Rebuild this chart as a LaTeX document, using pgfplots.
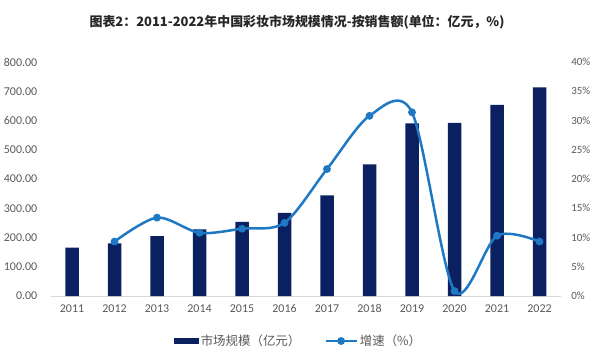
\documentclass[border=0pt]{standalone}
\usepackage{fontspec}
\setmainfont{Carlito}
\newfontfamily\cjk{Noto Sans CJK SC}
\usepackage{pgfplots}
\pgfplotsset{compat=1.18}
\definecolor{navy}{RGB}{10,32,96}
\definecolor{lblue}{RGB}{31,120,196}
\definecolor{tgray}{RGB}{89,89,89}
\definecolor{agray}{RGB}{217,217,217}
\begin{document}
\begin{tikzpicture}[x=1bp,y=1bp]
\useasboundingbox (0,0) rectangle (600,357);
\node[font=\cjk\bfseries\fontsize{13}{15}\selectfont, text=black!85] at (297,335) {图表2：2011-2022年中国彩妆市场规模情况-按销售额(单位：亿元，\%)};
\begin{axis}[at={(50.75bp,61bp)}, anchor=south west, scale only axis,
  width=510bp, height=234bp,
  xmin=-0.5, xmax=11.5, ymin=0, ymax=800,
  ytick={0,100,...,800},
  xtick={0,...,11},
  xticklabels={2011,2012,2013,2014,2015,2016,2017,2018,2019,2020,2021,2022},
  axis x line*=bottom, axis y line*=left,
  separate axis lines,
  x axis line style={agray, line width=0.8bp, -},
  y axis line style={draw=none},
  tick style={draw=none},
  /pgf/number format/assume math mode=true,
  ticklabel style={font=\fontsize{12}{13}\selectfont, text=tgray},
  yticklabel={\pgfmathprintnumber[fixed, fixed zerofill, precision=2, 1000 sep={}]{\tick}},
  yticklabel style={xshift=-10bp},
  xticklabel style={yshift=-5bp},
  clip=false,
]
\addplot[ybar, bar width=13.5bp, bar shift=0pt, fill=navy, draw=none] coordinates {
(0,165) (1,180) (2,205) (3,228) (4,253) (5,284) (6,344) (7,450) (8,590) (9,592) (10,653) (11,713)};
\end{axis}
\begin{axis}[at={(50.75bp,61bp)}, anchor=south west, scale only axis,
  width=510bp, height=234bp,
  xmin=-0.5, xmax=11.5, ymin=0, ymax=40,
  ytick={0,5,...,40},
  axis y line*=right, axis x line=none,
  y axis line style={draw=none},
  tick style={draw=none},
  /pgf/number format/assume math mode=true,
  yticklabel={\pgfmathprintnumber{\tick}\%},
  yticklabel style={font=\fontsize{11}{12}\selectfont, text=tgray, xshift=7bp},
  clip=false,
  legend style={at={(axis description cs:0.5,0)}, anchor=center, yshift=-45bp, xshift=-7bp,
    draw=none, fill=none, legend columns=2,
    font=\cjk\fontsize{12.5}{14}\selectfont, text=tgray,
    /tikz/every even column/.append style={column sep=22bp}},
]
\addlegendimage{legend image code/.code={\fill[navy] (0bp,-2.5bp) rectangle (24bp,2.5bp);}}
\addlegendentry{市场规模（亿元）}
\addplot[lblue, line width=2.5bp, smooth, mark=*, mark size=2.6bp,
  legend image code/.code={\draw[lblue,line width=2.5bp] (0bp,0bp) -- (31bp,0bp); \fill[lblue] (15.5bp,0bp) circle (2.6bp);}]
  coordinates {(1,9.3) (2,13.4) (3,10.8) (4,11.5) (5,12.5) (6,21.7) (7,30.8) (8,31.4) (9,0.85) (10,10.3) (11,9.3)};
\addlegendentry{增速（\%）}
\end{axis}
\end{tikzpicture}
\end{document}
